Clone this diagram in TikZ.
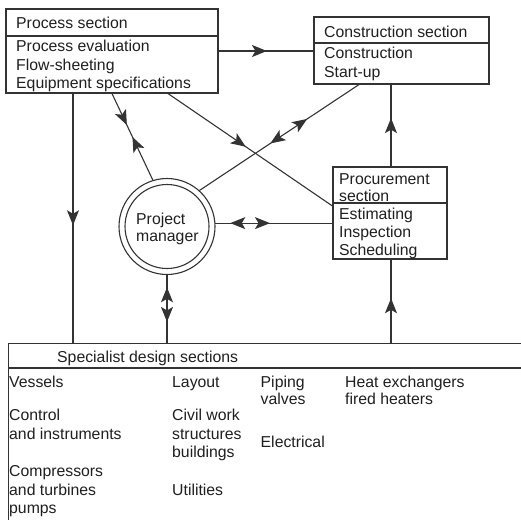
\documentclass[tikz,border=0pt]{standalone}
\usepackage{fontspec}
\setmainfont{Liberation Sans}
\usetikzlibrary{arrows.meta,decorations.markings}
\begin{document}
\begin{tikzpicture}[x=1pt,y=-1pt,
  conn/.style={draw=black!80, line width=1.1pt},
  box/.style={conn, rectangle, inner sep=0pt},
  txt/.style={anchor=base west, inner sep=0pt, text=black!88, font=\fontsize{15.8}{18}\selectfont},
  tipat/.style={postaction={decorate,decoration={markings,mark=at position #1 with {\arrow{Stealth[length=15pt,width=12pt,inset=3.5pt]}}}}},
  tipback/.style={postaction={decorate,decoration={markings,mark=at position #1 with {\arrowreversed{Stealth[length=15pt,width=12pt,inset=3.5pt]}}}}}
]
\useasboundingbox (0,0) rectangle (521,519);
\clip (0,0) rectangle (521,519);

% boxes
\node[box, minimum width=212, minimum height=84] (proc) at (112,51) {};
\draw[conn] (proc.west |- 0,36) -- (proc.east |- 0,36);
\node[box, minimum width=175, minimum height=67] (cons) at (401.5,50.5) {};
\draw[conn] (cons.west |- 0,43) -- (cons.east |- 0,43);
\node[box, minimum width=114, minimum height=92] (procu) at (390,213) {};
\draw[conn] (procu.west |- 0,203) -- (procu.east |- 0,203);
\node[box, anchor=north west, minimum width=600, minimum height=250] (spec) at (8,343) {};
\draw[conn] (spec.west |- 0,368) -- (spec.east |- 0,368);
\node[conn, circle, minimum size=96, inner sep=0pt] (pm) at (167,226.5) {};
\draw[conn] (pm.center) circle (42);

% texts
\node[txt] (p0) at (16,28.5) {Process section};
\node[txt] (p1) at (16,51.5) {Process evaluation};
\node[txt] (p2) at (16,70.5) {Flow-sheeting};
\node[txt] (p3) at (16,88.5) {Equipment specifications};

\node[txt] (c0) at (324,37.3) {Construction section};
\node[txt] (c1) at (324,58.3) {Construction};
\node[txt] (c2) at (324,77.3) {Start-up};

\node[txt] (r0) at (339,184) {Procurement};
\node[txt] (r1) at (339,201) {section};
\node[txt] (r2) at (339,219) {Estimating};
\node[txt] (r3) at (339,237.7) {Inspection};
\node[txt] (r4) at (339,255.7) {Scheduling};

\node[txt] (m0) at (136,224) {Project};
\node[txt] (m1) at (136,241.7) {manager};

\node[txt] (s0) at (57,362.7) {Specialist design sections};
\node[txt] (a1) at (9,387.3) {Vessels};
\node[txt] (a2) at (9,420.7) {Control};
\node[txt] (a3) at (9,439) {and instruments};
\node[txt] (a4) at (9,476.7) {Compressors};
\node[txt] (a5) at (9,495) {and turbines};
\node[txt] (a6) at (9,513.3) {pumps};
\node[txt] (b1) at (172,387.3) {Layout};
\node[txt] (b2) at (172,420.7) {Civil work};
\node[txt] (b3) at (172,439) {structures};
\node[txt] (b4) at (172,457.3) {buildings};
\node[txt] (b5) at (172,495) {Utilities};
\node[txt] (d1) at (260.5,387.3) {Piping};
\node[txt] (d2) at (260.5,404.3) {valves};
\node[txt] (d3) at (260.5,447.7) {Electrical};
\node[txt] (e1) at (345,387.3) {Heat exchangers};
\node[txt] (e2) at (345,404.3) {fired heaters};

% connectors
\draw[conn, tipat=0.51] (proc.east) -- (proc.east -| cons.west);
\draw[conn, tipat=0.528] (73,0 |- proc.south) -- (73,0 |- spec.north);
\draw[conn, tipat=0.365, tipback=0.502] (112,0 |- proc.south) -- (pm.107);
\draw[conn, tipat=0.473] (168,0 |- proc.south) -- (procu.west |- 0,206);
\draw[conn, tipback=0.444, tipat=0.675] (pm.48) -- (359,0 |- cons.south);
\draw[conn, tipback=0.127, tipat=0.466] (pm.4) -- (pm.4 -| procu.west);
\draw[conn, tipback=0.18, tipat=0.69] (pm.south) -- (pm.south |- spec.north);
\draw[conn, tipat=0.59] (391,0 |- procu.north) -- (391,0 |- cons.south);
\draw[conn, tipat=0.536] (391,0 |- spec.north) -- (391,0 |- procu.south);
\end{tikzpicture}
\end{document}
